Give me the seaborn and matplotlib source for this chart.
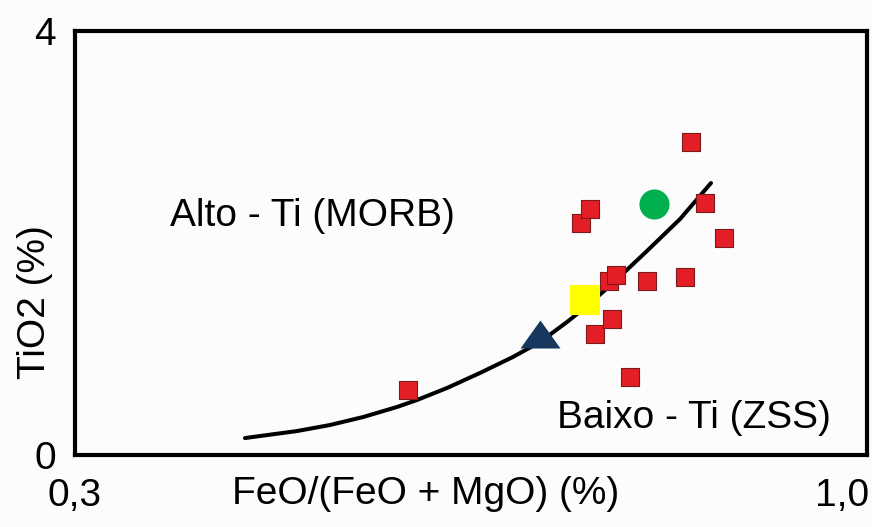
import matplotlib
matplotlib.use("Agg")
import matplotlib.pyplot as plt
import matplotlib.transforms as mtransforms
import seaborn as sns
import pandas as pd

# Red squares (samples)
red_x = [0.6012, 0.7576, 0.7658, 0.7830, 0.7893, 0.7703, 0.7857, 0.8019,
         0.8173, 0.8517, 0.8571, 0.8698, 0.8870]
red_y = [0.613, 2.189, 2.321, 1.642, 1.698, 1.142, 1.283, 0.736,
         1.642, 1.679, 2.953, 2.377, 2.047]

# Reference symbols
green_x = [0.8237]
green_y = [2.368]
yellow_x = [0.7612]
yellow_y = [1.462]
tri_x = [0.7206]
tri_y = [1.142]

# Dividing curve
curve_x = [0.4537, 0.5008, 0.5306, 0.5605, 0.5912, 0.6093, 0.6364, 0.6663,
           0.6961, 0.7206, 0.7450, 0.7631, 0.7866, 0.8173, 0.8472, 0.8752]
curve_y = [0.160, 0.226, 0.283, 0.358, 0.453, 0.519, 0.632, 0.774,
           0.925, 1.066, 1.255, 1.406, 1.623, 1.925, 2.226, 2.566]

x_ticks = [0.3, 1.0]
x_ticklabels = ["0,3", "1,0"]
y_ticks = [0, 4]
y_ticklabels = ["0", "4"]

sns.set_style("white")
plt.rcParams["font.family"] = ["Liberation Sans", "DejaVu Sans"]
plt.rcParams["text.color"] = "black"
plt.rcParams["axes.labelcolor"] = "black"
plt.rcParams["xtick.color"] = "black"
plt.rcParams["ytick.color"] = "black"

fig = plt.figure(figsize=(8.72, 5.27), dpi=100)
fig.patch.set_facecolor("#fcfcfc")
ax = fig.add_axes([0.0860, 0.1366, 0.9083, 0.8046])
ax.set_facecolor("#fcfcfc")

curve = pd.DataFrame({"x": curve_x, "y": curve_y})
sns.lineplot(data=curve, x="x", y="y", sort=False, color="black",
             linewidth=2.9, ax=ax, zorder=2)

sns.scatterplot(x=red_x, y=red_y, marker="s", s=150, color="#e41e26",
                edgecolor="#7a1a1a", linewidth=0.8, ax=ax, zorder=3)
sns.scatterplot(x=green_x, y=green_y, marker="o", s=470, color="#00b04f",
                linewidth=0, ax=ax, zorder=3)
sns.scatterplot(x=yellow_x, y=yellow_y, marker="s", s=470, color="#ffff00",
                linewidth=0, ax=ax, zorder=3)
tri = [(-1, -0.7), (1, -0.7), (0, 0.7)]
sns.scatterplot(x=tri_x, y=tri_y, marker=tri, s=830, color="#17375e",
                linewidth=0, ax=ax, zorder=3)

ax.text(0.5143, 2.255, "Alto - Ti (MORB)", fontsize=28, ha="center",
        va="center")
ax.text(0.8598, 0.349, "Baixo - Ti (ZSS)", fontsize=28, ha="center",
        va="center")

ax.set_xlim(0.3, 1.0163)
ax.set_ylim(0, 4)
ax.set_xticks(x_ticks)
ax.set_xticklabels(x_ticklabels)
ax.set_yticks(y_ticks)
ax.set_yticklabels(y_ticklabels)
ax.tick_params(axis="both", labelsize=28, width=2.7, color="black",
               labelcolor="black", direction="out")
ax.tick_params(axis="x", length=11.5, pad=5)
ax.tick_params(axis="y", length=8.6, pad=5)

# last x label sits a bit left of its tick in the original
shift = mtransforms.ScaledTranslation(-7 / 100, 0, fig.dpi_scale_trans)
lab = ax.get_xticklabels()[-1]
lab.set_transform(lab.get_transform() + shift)

ax.set_xlabel("FeO/(FeO + MgO) (%)", fontsize=28)
ax.set_ylabel("TiO2 (%)", fontsize=28)
ax.xaxis.set_label_coords(0.443, -0.05)
ax.yaxis.set_label_coords(-0.028, 0.36)

for sp in ax.spines.values():
    sp.set_linewidth(3.0)
    sp.set_color("black")

fig.savefig("out.png", dpi=100, facecolor=fig.get_facecolor())
